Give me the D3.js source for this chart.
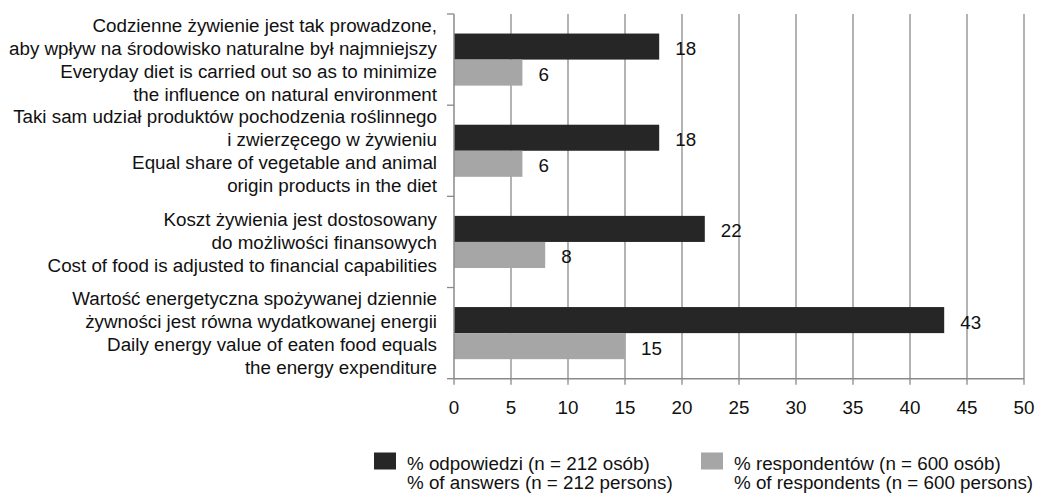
<!DOCTYPE html>
<html>
<head>
<meta charset="utf-8">
<script src="https://cdn.jsdelivr.net/npm/d3@7"></script>
<style>
  html, body { margin: 0; padding: 0; background: #fff; }
  svg text { font-family: "Liberation Sans", Arial, sans-serif; fill: #111; }
</style>
</head>
<body>
<svg id="chart" width="1039" height="493"></svg>
<script>
// Category labels (Polish / English), top to bottom
const categories = [
  ["Codzienne żywienie jest tak prowadzone,", "aby wpływ na środowisko naturalne był najmniejszy", "Everyday diet is carried out so as to minimize", "the influence on natural environment"],
  ["Taki sam udział produktów pochodzenia roślinnego", "i zwierzęcego w żywieniu", "Equal share of vegetable and animal", "origin products in the diet"],
  ["Koszt żywienia jest dostosowany", "do możliwości finansowych", "Cost of food is adjusted to financial capabilities"],
  ["Wartość energetyczna spożywanej dziennie", "żywności jest równa wydatkowanej energii", "Daily energy value of eaten food equals", "the energy expenditure"]
];
const answers = [18, 18, 22, 43];      // % odpowiedzi (n = 212)
const respondents = [6, 6, 8, 15];     // % respondentów (n = 600)
const xTicks = [0, 5, 10, 15, 20, 25, 30, 35, 40, 45, 50];
const seriesNames = [
  ["% odpowiedzi (n = 212 osób)", "% of answers (n = 212 persons)"],
  ["% respondentów (n = 600 osób)", "% of respondents (n = 600 persons)"]
];
const seriesColors = ["#262626", "#a6a6a6"];

const svg = d3.select("#chart");
const plotLeft = 454, plotRight = 1024, plotTop = 14, plotBottom = 378.7;
const fs = 18.8;

const x = d3.scaleLinear().domain([0, 50]).range([plotLeft, plotRight]);
const y = d3.scaleBand().domain(d3.range(categories.length)).range([plotTop, plotBottom]).paddingInner(0).paddingOuter(0);
const gap = 1.5; // gap width relative to one bar
const barH = y.bandwidth() / (2 + gap);
const offset = gap * barH / 2;

// vertical gridlines
svg.append("g").selectAll("line")
  .data(xTicks.filter(d => d > 0))
  .join("line")
  .attr("x1", d => x(d)).attr("x2", d => x(d))
  .attr("y1", plotTop).attr("y2", plotBottom)
  .attr("stroke", "#8a8a8a").attr("stroke-width", 1.3);

// bars and value labels
const series = [answers, respondents];
series.forEach((vals, si) => {
  svg.append("g").selectAll("rect")
    .data(vals)
    .join("rect")
    .attr("x", x(0))
    .attr("y", (d, i) => y(i) + offset + si * barH)
    .attr("width", d => x(d) - x(0))
    .attr("height", barH)
    .attr("fill", seriesColors[si]);

  svg.append("g").selectAll("text")
    .data(vals)
    .join("text")
    .attr("x", d => x(d) + 16)
    .attr("y", (d, i) => y(i) + offset + si * barH + barH / 2 + 8.5)
    .attr("font-size", fs)
    .text(d => d);
});

// left axis with outer ticks at category boundaries
const yAxis = svg.append("g");
yAxis.append("line")
  .attr("x1", plotLeft).attr("x2", plotLeft).attr("y1", plotTop).attr("y2", plotBottom)
  .attr("stroke", "#8a8a8a").attr("stroke-width", 1.5);
yAxis.selectAll("line.tick")
  .data(d3.range(categories.length + 1))
  .join("line").attr("class", "tick")
  .attr("x1", plotLeft - 7).attr("x2", plotLeft)
  .attr("y1", i => plotTop + i * y.step()).attr("y2", i => plotTop + i * y.step())
  .attr("stroke", "#8a8a8a").attr("stroke-width", 1.3);

// category labels
const lineH = 23;
categories.forEach((lines, i) => {
  const cy = y(i) + y.bandwidth() / 2;
  const t = svg.append("text")
    .attr("text-anchor", "end")
    .attr("font-size", fs);
  lines.forEach((ln, k) => {
    t.append("tspan")
      .attr("x", 437)
      .attr("y", cy + (k - (lines.length - 1) / 2) * lineH + 6.7)
      .text(ln);
  });
});

// bottom axis
const xAxis = svg.append("g");
xAxis.append("line")
  .attr("x1", plotLeft).attr("x2", plotRight).attr("y1", plotBottom).attr("y2", plotBottom)
  .attr("stroke", "#8a8a8a").attr("stroke-width", 1.5);
xAxis.selectAll("line.tick")
  .data(xTicks)
  .join("line").attr("class", "tick")
  .attr("x1", d => x(d)).attr("x2", d => x(d))
  .attr("y1", plotBottom).attr("y2", plotBottom + 6)
  .attr("stroke", "#8a8a8a").attr("stroke-width", 1.3);
xAxis.selectAll("text")
  .data(xTicks)
  .join("text")
  .attr("x", d => x(d))
  .attr("y", 414)
  .attr("text-anchor", "middle")
  .attr("font-size", fs)
  .text(d => d);

// legend
const legendX = [374, 701];
seriesNames.forEach((names, si) => {
  const g = svg.append("g");
  g.append("rect")
    .attr("x", legendX[si]).attr("y", 452.5)
    .attr("width", 22).attr("height", 17)
    .attr("fill", seriesColors[si]);
  names.forEach((ln, k) => {
    g.append("text")
      .attr("x", legendX[si] + 33)
      .attr("y", 463 + k * 19 + 6.7)
      .attr("font-size", fs)
      .text(ln);
  });
});
</script>
</body>
</html>
